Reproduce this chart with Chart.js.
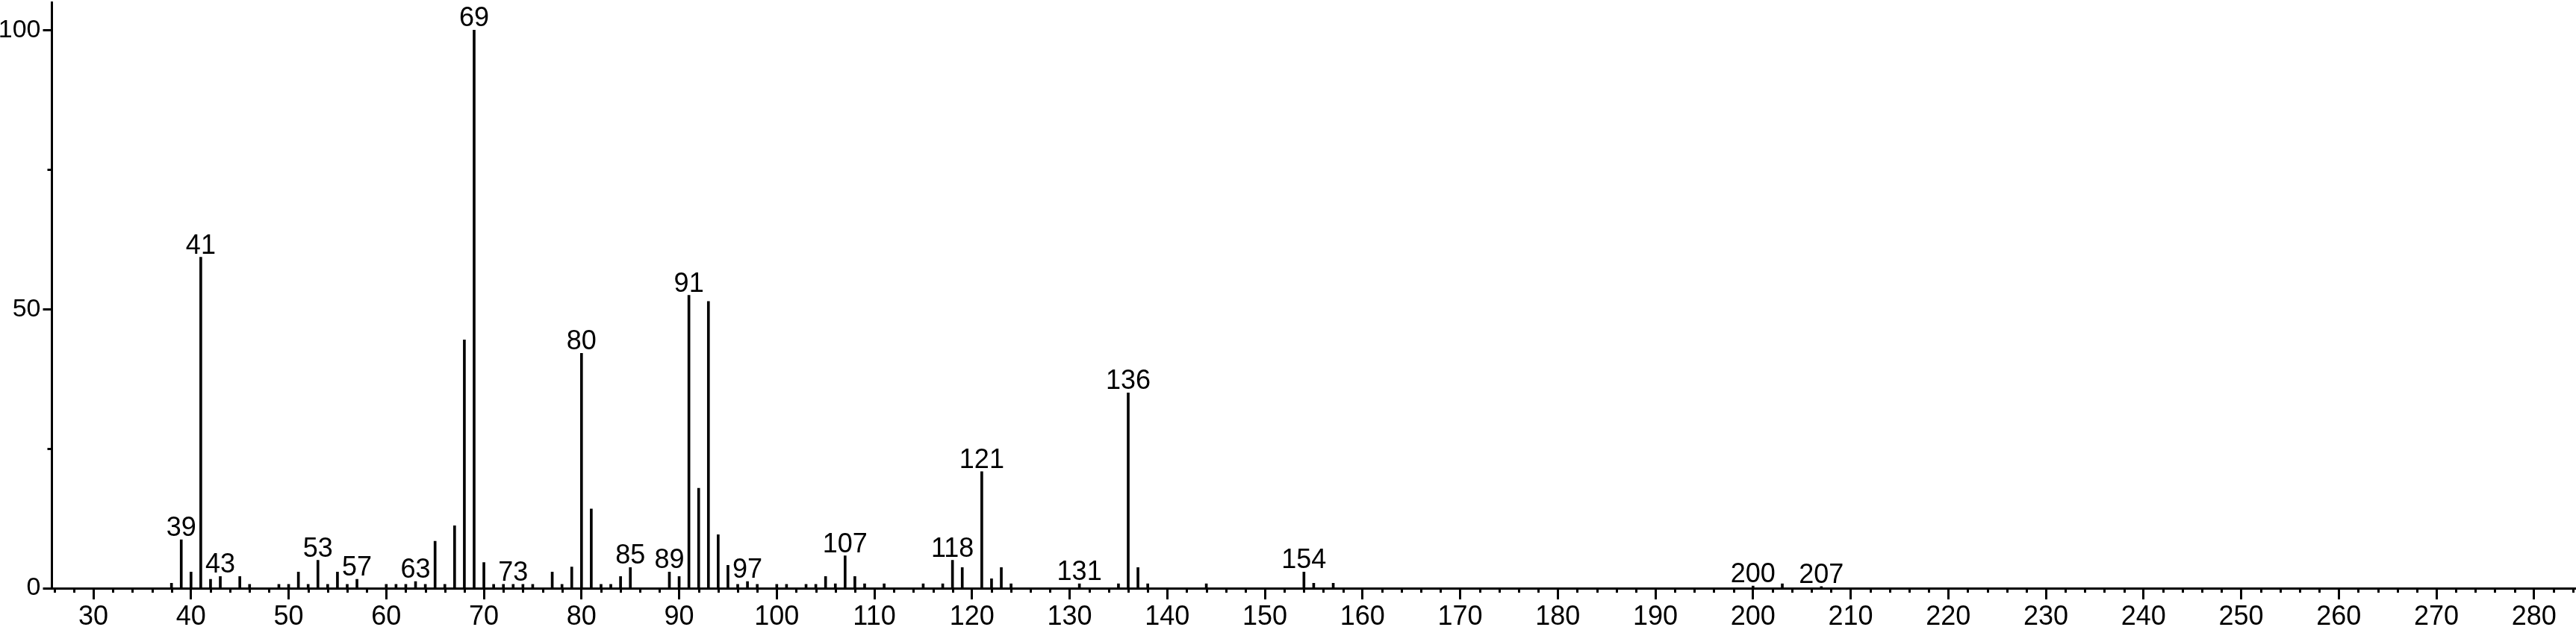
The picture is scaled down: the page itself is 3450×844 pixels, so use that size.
<!DOCTYPE html>
<html>
<head>
<meta charset="utf-8">
<script src="https://cdn.jsdelivr.net/npm/chart.js@4"></script>
<style>
  html, body { margin: 0; padding: 0; background: #fff; }
  #wrap { width: 3450px; height: 844px; position: relative; }
</style>
</head>
<body>
<div id="wrap"><canvas id="spectrum"></canvas></div>
<script>
// m/z values and relative intensities (%)
const mz = [38, 39, 40, 41, 42, 43, 45, 46, 49, 50, 51, 52, 53, 54, 55, 56, 57, 60, 61, 62, 63, 64, 65, 66, 67, 68, 69, 70,
    71, 72, 73, 74, 75, 77, 78, 79, 80, 81, 82, 83, 84, 85, 89, 90, 91, 92, 93, 94, 95, 96, 97, 98, 100, 101, 103, 104,
    105, 106, 107, 108, 109, 111, 115, 117, 118, 119, 121, 122, 123, 124, 131, 135, 136, 137, 138, 144, 154, 155, 157,
    200, 203, 207];
const intensity = [0.9, 8.7, 2.9, 59.3, 1.6, 2.1, 2.1, 0.7, 0.7, 0.7, 2.9, 0.7, 5.0, 0.7, 2.9, 0.7, 1.6, 0.7, 0.7, 0.7, 1.2, 0.7, 8.4, 0.7, 11.2, 44.5, 100, 4.6,
    0.7, 0.7, 0.7, 0.7, 0.7, 2.9, 0.7, 3.8, 42.1, 14.2, 0.7, 0.7, 2.1, 3.7, 2.9, 2.1, 52.5, 17.9, 51.4, 9.6, 4.1, 0.7, 1.2, 0.7, 0.7, 0.7, 0.7, 0.7,
    2.1, 0.8, 5.8, 2.1, 0.8, 0.8, 0.8, 0.8, 5.0, 3.7, 20.9, 1.7, 3.7, 0.8, 0.8, 0.8, 35.0, 3.7, 0.8, 0.8, 2.9, 0.9, 0.9,
    0.4, 0.8, 0.3];
// peaks that carry an m/z label
const labelledPeaks = [39, 41, 43, 53, 57, 63, 69, 73, 80, 85, 89, 91, 97, 107, 118, 121, 131, 136, 154, 200, 207];
const yTicks = [0, 50, 100];
const yMinorTicks = [25, 75];

const FONT = "'Liberation Sans', Arial, sans-serif";
Chart.defaults.font.family = FONT;
Chart.defaults.font.size = 36;
Chart.defaults.color = '#000';

// short ticks every 2 units on x, and at 25/75 on y
const minorTicks = {
    id: 'minorTicks',
    afterDraw(chart) {
        const {ctx, chartArea, scales} = chart;
        ctx.save();
        ctx.strokeStyle = '#000';
        ctx.lineWidth = 3;
        ctx.beginPath();
        for (let v = Math.ceil(scales.x.min / 2) * 2; v <= scales.x.max; v += 2) {
            if (v % 10 === 0) continue;
            const px = Math.round(scales.x.getPixelForValue(v)) + 0.5;
            ctx.moveTo(px, chartArea.bottom);
            ctx.lineTo(px, chartArea.bottom + 6);
        }
        yMinorTicks.forEach((v) => {
            const py = Math.round(scales.y.getPixelForValue(v)) + 0.5;
            ctx.moveTo(chartArea.left - 6, py);
            ctx.lineTo(chartArea.left, py);
        });
        ctx.stroke();
        ctx.restore();
    },
};

const peakLabels = {
    id: 'peakLabels',
    afterDatasetsDraw(chart) {
        const {ctx} = chart;
        const meta = chart.getDatasetMeta(0);
        ctx.save();
        ctx.fillStyle = '#000';
        ctx.font = '36px ' + FONT;
        ctx.textAlign = 'center';
        ctx.textBaseline = 'alphabetic';
        mz.forEach((m, i) => {
            if (!labelledPeaks.includes(m)) return;
            const bar = meta.data[i];
            ctx.fillText(String(m), bar.x, bar.y - 5);
        });
        ctx.restore();
    },
};

new Chart(document.getElementById('spectrum'), {
    type: 'bar',
    data: {
        datasets: [
            {
                data: mz.map((m, i) => ({x: m, y: intensity[i]})),
                backgroundColor: '#000',
                borderWidth: 0,
                barThickness: 3,
            },
        ],
    },
    options: {
        responsive: true,
        maintainAspectRatio: false,
        animation: false,
        layout: {padding: {top: 3, right: 0, bottom: 0, left: 0}},
        plugins: {
            legend: {display: false},
            tooltip: {enabled: false},
        },
        scales: {
            x: {
                type: 'linear',
                offset: false,
                min: 25.75,
                max: 284.3,
                border: {display: true, color: '#000', width: 3},
                grid: {
                    drawOnChartArea: false,
                    offset: false,
                    tickLength: 15,
                    tickWidth: 3,
                    tickColor: '#000',
                },
                ticks: {
                    stepSize: 10,
                    includeBounds: false,
                    autoSkip: false,
                    maxRotation: 0,
                    padding: 4,
                    font: {size: 36, lineHeight: 1.1},
                },
                afterFit: (scale) => {
                    scale.height = 56;
                    scale.paddingLeft = 0;
                    scale.paddingRight = 0;
                },
            },
            y: {
                min: 0,
                max: 105,
                border: {display: true, color: '#000', width: 3},
                grid: {
                    drawOnChartArea: false,
                    tickLength: 12,
                    tickWidth: 3,
                    tickColor: '#000',
                },
                afterBuildTicks: (scale) => {
                    scale.ticks = yTicks.map((v) => ({value: v}));
                },
                ticks: {
                    padding: 3,
                    font: {size: 34},
                },
                afterFit: (scale) => {
                    scale.width = 69.5;
                    scale.paddingTop = 0;
                    scale.paddingBottom = 0;
                },
            },
        },
    },
    plugins: [minorTicks, peakLabels],
});
</script>
</body>
</html>
